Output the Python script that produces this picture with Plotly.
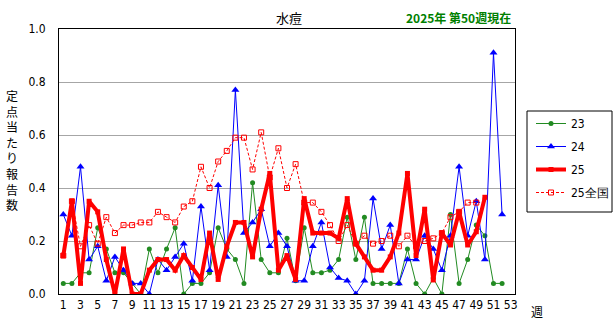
import plotly.graph_objects as go

weeks = list(range(1, 54))

s23 = [0.04, 0.04, 0.08, 0.08, 0.25, 0.17, 0.08, 0.08, 0.04, 0.0,
       0.17, 0.08, 0.17, 0.25, 0.0, 0.04, 0.04, 0.08, 0.25, 0.17,
       0.13, 0.04, 0.42, 0.13, 0.08, 0.08, 0.21, 0.05, 0.25, 0.08,
       0.08, 0.09, 0.13, 0.29, 0.13, 0.29, 0.04, 0.04, 0.04, 0.04,
       0.17, 0.04, 0.0, 0.06, 0.0, 0.30, 0.04, 0.13, 0.26, 0.22,
       0.04, 0.04]
s24 = [0.30, 0.22, 0.48, 0.13, 0.18, 0.05, 0.14, 0.09, 0.04, 0.04,
       0.0, 0.13, 0.09, 0.14, 0.19, 0.05, 0.33, 0.09, 0.41, 0.14,
       0.77, 0.23, 0.27, 0.32, 0.18, 0.23, 0.18, 0.05, 0.05, 0.18,
       0.27, 0.10, 0.06, 0.05, 0.0, 0.05, 0.36, 0.17, 0.26, 0.04,
       0.13, 0.13, 0.22, 0.17, 0.09, 0.22, 0.48, 0.22, 0.35, 0.13,
       0.91, 0.30]
s25 = [0.145, 0.35, 0.04, 0.35, 0.31, 0.13, 0.0, 0.17, 0.0, 0.0,
       0.09, 0.13, 0.13, 0.09, 0.145, 0.10, 0.055, 0.23, 0.055, 0.18,
       0.27, 0.27, 0.14, 0.32, 0.455, 0.09, 0.145, 0.055, 0.36, 0.23,
       0.23, 0.23, 0.21, 0.36, 0.19, 0.14, 0.09, 0.09, 0.14, 0.23,
       0.455, 0.145, 0.32, 0.053, 0.23, 0.185, 0.31, 0.185, 0.235, 0.365]
s25n = [0.145, 0.35, 0.18, 0.26, 0.19, 0.29, 0.23, 0.26, 0.26, 0.27,
        0.27, 0.31, 0.29, 0.27, 0.33, 0.35, 0.48, 0.40, 0.50, 0.54,
        0.59, 0.59, 0.47, 0.61, 0.44, 0.55, 0.40, 0.49, 0.345, 0.345,
        0.31, 0.26, 0.20, 0.26, 0.19, 0.22, 0.19, 0.20, 0.22, 0.18,
        0.22, 0.18, 0.20, 0.21, 0.23, 0.29, 0.31, 0.345, 0.345]

xticks = list(range(1, 54, 2))
yticks = [0.0, 0.2, 0.4, 0.6, 0.8, 1.0]

num_font = "Liberation Sans Narrow, DejaVu Sans Condensed, Arial Narrow, sans-serif"
jp_font = "Noto Sans CJK JP, sans-serif"

W, H = 615, 325
# plot-area pixel frame
pl, pr, pt, pb = 59, 515, 29, 294
def px(x):
    return (x - pl) / (pr - pl)
def py(y):
    return (pb - y) / (pb - pt)

fig = go.Figure()
fig.add_trace(go.Scatter(x=weeks[:len(s23)], y=s23, name="23", mode="lines+markers",
                         line=dict(color="#228B22", width=1),
                         marker=dict(symbol="circle", size=5, color="#228B22"),
                         legendgroup="a"))
fig.add_trace(go.Scatter(x=weeks[:len(s24)], y=s24, name="24", mode="lines+markers",
                         line=dict(color="#0000FF", width=1),
                         marker=dict(symbol="triangle-up", size=7, color="#0000FF"),
                         legendgroup="b"))
fig.add_trace(go.Scatter(x=weeks[:len(s25)], y=s25, name="25", mode="lines+markers",
                         line=dict(color="#FF0000", width=4),
                         marker=dict(symbol="square", size=5, color="#FF0000"),
                         legendgroup="c"))
fig.add_trace(go.Scatter(x=weeks[:len(s25n)], y=s25n, name="25全国", mode="lines+markers",
                         line=dict(color="#FF0000", width=1, dash="3px,2px"),
                         marker=dict(symbol="square-open", size=5, color="#FF0000",
                                     line=dict(width=1)),
                         legendgroup="d"))

annots = [
    ("水痘", 289, 17, 13, "black", False),
    ("2025年 第50週現在", 458, 17, 12, "#008000", True),
    ("定<br>点<br>当<br>た<br>り<br>報<br>告<br>数", 12, 150, 12, "black", False),
    ("週", 537, 311, 12, "black", False),
]

fig.update_layout(
    width=W, height=H,
    margin=dict(l=59, r=100, t=29, b=31),
    paper_bgcolor="white", plot_bgcolor="white",
    font=dict(family=num_font, size=11, color="black"),
    showlegend=True,
    legend=dict(xref="container", yref="container",
                x=531 / W, y=(H - 109) / H, xanchor="left", yanchor="top",
                borderwidth=0, bgcolor="rgba(0,0,0,0)",
                font=dict(family=num_font, size=12),
                tracegroupgap=4, itemwidth=30),
    xaxis=dict(range=[0.5, 53.5], tickvals=xticks, ticktext=[str(v) for v in xticks],
               showline=True, linecolor="black", linewidth=1, mirror=True,
               showgrid=False, zeroline=False, ticks="",
               tickfont=dict(family=num_font, size=12)),
    yaxis=dict(range=[0, 1.0], tickvals=yticks, ticktext=[f"{v:.1f}" for v in yticks],
               showline=True, linecolor="black", linewidth=1, mirror=True,
               showgrid=True, gridcolor="#A6A6A6", gridwidth=1, zeroline=False,
               ticks="", ticklabelstandoff=10,
               tickfont=dict(family=num_font, size=12)),
    shapes=[dict(type="rect", xref="paper", yref="paper",
                 x0=px(527), x1=px(612), y0=py(212), y1=py(111),
                 line=dict(color="black", width=1), fillcolor="rgba(0,0,0,0)")],
    annotations=[
        dict(text=(f"<b>{t}</b>" if b else t), x=px(x), y=py(y), xref="paper", yref="paper",
             xanchor="center", yanchor="middle", showarrow=False,
             font=dict(family=jp_font, size=s, color=c))
        for t, x, y, s, c, b in annots
    ],
)

fig.write_html("out.html")
